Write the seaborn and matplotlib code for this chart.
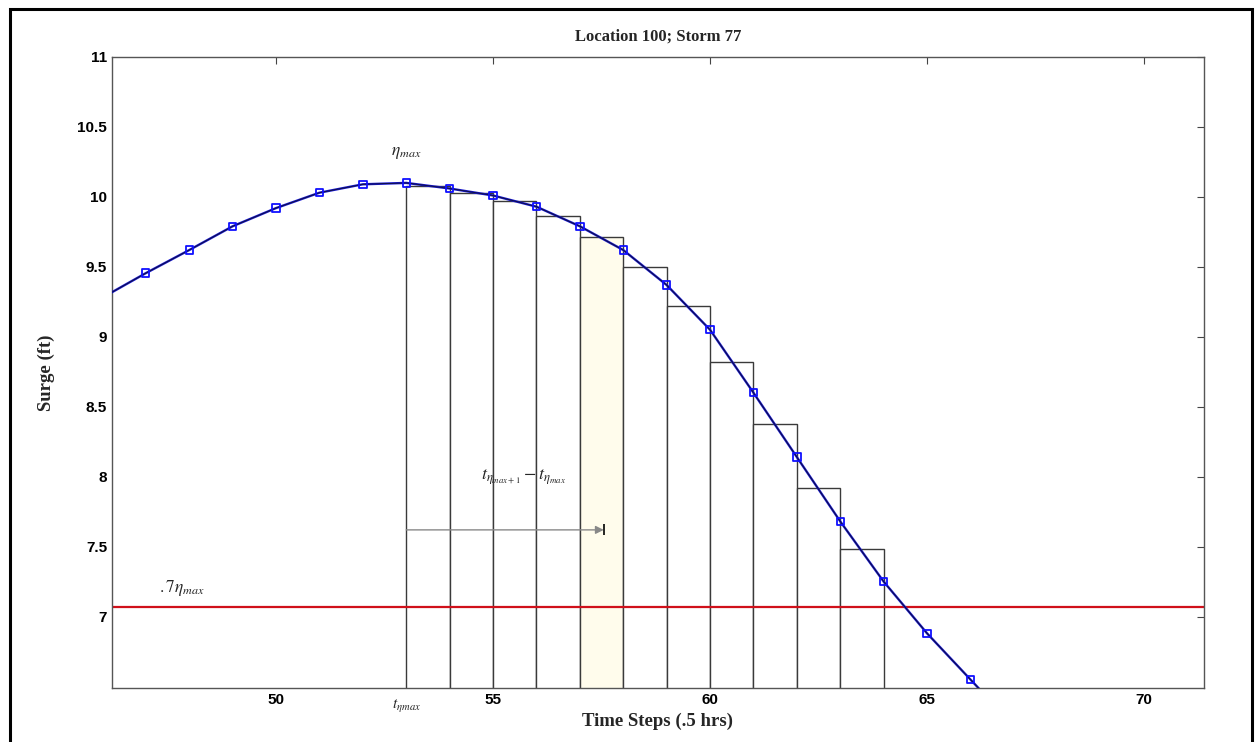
import seaborn as sns
import matplotlib.pyplot as plt
from matplotlib.patches import Rectangle

# surge curve, line runs a bit past the markers
steps = [46, 47, 48, 49, 50, 51, 52, 53, 54, 55, 56, 57, 58, 59, 60, 61, 62, 63, 64, 65, 66, 67]
surge = [9.28, 9.455, 9.62, 9.79, 9.92, 10.03, 10.09, 10.10, 10.06, 10.01, 9.93, 9.79,
         9.62, 9.37, 9.05, 8.60, 8.14, 7.68, 7.25, 6.88, 6.55, 6.22]
marker_steps = steps[1:-1]
marker_surge = surge[1:-1]

# step bars after the peak
bar_left = [53, 54, 55, 56, 57, 58, 59, 60, 61, 62, 63]
bar_height = [10.08, 10.03, 9.97, 9.86, 9.71, 9.50, 9.22, 8.82, 8.38, 7.92, 7.48]
shaded_bar = 57

eta_max = 10.10
threshold = 0.7 * eta_max
x_ticks = [50, 55, 60, 65, 70]
y_ticks = [7, 7.5, 8, 8.5, 9, 9.5, 10, 10.5, 11]
y_ticklabels = ['7', '7.5', '8', '8.5', '9', '9.5', '10', '10.5', '11']

sns.set_style("white")
plt.rcParams['mathtext.fontset'] = 'stix'

fig = plt.figure(figsize=(12.55, 7.42), dpi=100)
ax = fig.add_axes([0.0892, 0.0728, 0.8702, 0.8504])

# bars
faces = ['#fffcec' if b == shaded_bar else 'white' for b in bar_left]
ax.bar(bar_left, bar_height, width=1, align='edge', color=faces,
       edgecolor='#3a3a3a', linewidth=1.0, zorder=1)

# 0.7 eta_max line
ax.axhline(threshold, color='#d0101a', linewidth=1.6, zorder=2)

# surge curve
sns.lineplot(x=steps, y=surge, ax=ax, color='#1515d0', linewidth=1.7, zorder=3)
sns.lineplot(x=steps, y=surge, ax=ax, color='#101030', linewidth=0.6, zorder=4)
sns.scatterplot(x=marker_steps, y=marker_surge, ax=ax, marker='s', s=28,
                facecolor='none', edgecolor='#1010ff', linewidth=1.3, zorder=5)

# annotations
ax.text(53, 10.26, r'$\eta_{max}$', ha='center', va='bottom', fontsize=12.5)
ax.text(47.3, 7.13, r'$.7\eta_{max}$', ha='left', va='bottom', fontsize=12.5)
ax.text(55.7, 7.93, r'$t_{\eta_{max+1}} - t_{\eta_{max}}$', ha='center',
        va='bottom', fontsize=13)
ax.annotate('', xy=(57.55, 7.62), xytext=(53, 7.62),
            arrowprops=dict(arrowstyle='-|>', color='#888888', lw=1.0,
                            mutation_scale=12, shrinkA=0, shrinkB=0))
ax.vlines(57.55, 7.58, 7.66, color='black', linewidth=1.2, zorder=6)
ax.text(53, -0.015, r'$t_{\eta max}$', transform=ax.get_xaxis_transform(),
        ha='center', va='top', fontsize=11)

# axes styling (matlab look)
ax.set_xlim(46.22, 71.38)
ax.set_ylim(6.49, 11)
ax.set_xticks(x_ticks)
ax.set_xticklabels([str(t) for t in x_ticks], fontfamily='Liberation Sans',
                   fontweight='bold', fontsize=11)
ax.set_yticks(y_ticks)
ax.set_yticklabels(y_ticklabels, fontfamily='Liberation Sans',
                   fontweight='bold', fontsize=11)
ax.tick_params(direction='in', length=5, width=0.8, top=True, right=True,
               colors='#444444', labelcolor='black')
for s in ax.spines.values():
    s.set_color('#555555')
    s.set_linewidth(1.0)

ax.set_title('Location 100; Storm 77', fontfamily='Liberation Serif',
             fontweight='bold', fontsize=12, pad=12)
ax.set_xlabel('Time Steps (.5 hrs)', fontfamily='Liberation Serif',
              fontweight='bold', fontsize=13.5, labelpad=4)
ax.set_ylabel('Surge (ft)', fontfamily='Liberation Serif',
              fontweight='bold', fontsize=13.5, labelpad=16)

# outer frame of the figure
fig.patches.append(Rectangle((10 / 1255, -0.2), 1242 / 1255, 0.2 + 0.988,
                             transform=fig.transFigure, fill=False,
                             edgecolor='black', linewidth=2.2))

fig.savefig('out.png', dpi=100)
